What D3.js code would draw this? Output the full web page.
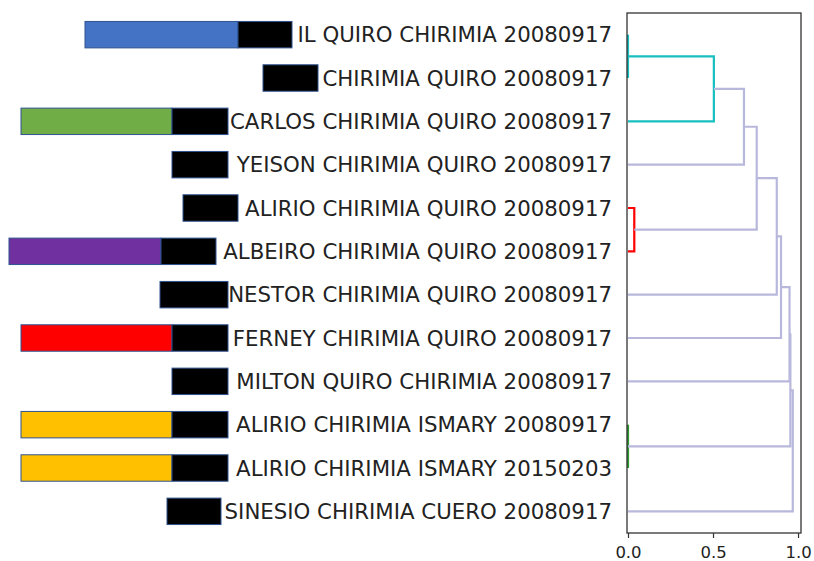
<!DOCTYPE html>
<html>
<head>
<meta charset="utf-8">
<style>
  body { margin: 0; background: #fff; }
  text { font-family: "DejaVu Sans", sans-serif; fill: #222; }
</style>
</head>
<body>
<svg id="chart" width="814" height="561"></svg>
<script src="https://d3js.org/d3.v7.min.js"></script>
<script>

// leaf labels, top to bottom
var leaves = [
  "IL QUIRO CHIRIMIA 20080917",
  "CHIRIMIA QUIRO 20080917",
  "CARLOS CHIRIMIA QUIRO 20080917",
  "YEISON CHIRIMIA QUIRO 20080917",
  "ALIRIO CHIRIMIA QUIRO 20080917",
  "ALBEIRO CHIRIMIA QUIRO 20080917",
  "NESTOR CHIRIMIA QUIRO 20080917",
  "FERNEY CHIRIMIA QUIRO 20080917",
  "MILTON QUIRO CHIRIMIA 20080917",
  "ALIRIO CHIRIMIA ISMARY 20080917",
  "ALIRIO CHIRIMIA ISMARY 20150203",
  "SINESIO CHIRIMIA CUERO 20080917"
];

// linkage rows: left child, right child, distance (new cluster ids start at 12)
var linkLeft  = [0, 12, 13, 4, 14, 16, 17, 18, 9, 19, 21];
var linkRight = [1, 2, 3, 5, 15, 6, 7, 8, 10, 20, 11];
var linkDist  = [0.0, 0.505, 0.682, 0.037, 0.757, 0.875, 0.90, 0.950, 0.0, 0.955, 0.969];
var linkColor = ["#17bfbf", "#17bfbf", "#b8b8dc", "#ff0000", "#b8b8dc", "#b8b8dc",
                 "#b8b8dc", "#b8b8dc", "#2f9a2f", "#b8b8dc", "#b8b8dc"];

var xTicks = [0.0, 0.5, 1.0];

// annotation boxes on the left (black box + coloured tag)
var boxStart = [238, 263, 172, 172, 183, 161, 160, 172, 172, 172, 172, 167];
var boxEnd   = [292, 318, 228, 228, 238, 216, 228, 228, 228, 228, 228, 221];
var tagStart = [85, null, 21, null, null, 9, null, 21, null, 21, 21, null];
var tagColor = ["#4472c4", null, "#70ad47", null, null, "#7030a0", null, "#ff0000", null, "#ffc000", "#ffc000", null];

var svg = d3.select("#chart");

var axLeft = 628, axRight = 801, axTop = 13, axBottom = 533;
var dmax = d3.max(linkDist) * 1.05;

var x = d3.scaleLinear().domain([0, dmax]).range([axLeft, axRight]);
var y = d3.scaleLinear().domain([0, leaves.length * 10]).range([axTop, axBottom]);
var bx = d3.scaleLinear().domain([0, 320]).range([0, 320]);

// positions of every node: y in leaf units, d = merge distance
var nodes = leaves.map(function(d, i) { return { y: 5 + 10 * i, d: 0 }; });
var segs = [];
linkLeft.forEach(function(a, i) {
  var b = linkRight[i], na = nodes[a], nb = nodes[b], h = linkDist[i];
  segs.push({ pts: [[na.d, na.y], [h, na.y], [h, nb.y], [nb.d, nb.y]], color: linkColor[i] });
  nodes.push({ y: (na.y + nb.y) / 2, d: h });
});

var line = d3.line().x(function(p) { return x(p[0]); }).y(function(p) { return y(p[1]); });

svg.append("g").selectAll("path")
  .data(segs)
  .enter().append("path")
    .attr("d", function(s) { return line(s.pts); })
    .attr("fill", "none")
    .attr("stroke", function(s) { return s.color; })
    .attr("stroke-width", 2.2);

// frame
svg.append("rect")
  .attr("x", axLeft - 1).attr("y", axTop)
  .attr("width", axRight - axLeft + 1).attr("height", axBottom - axTop)
  .attr("fill", "none").attr("stroke", "#333").attr("stroke-width", 1.3);

// x axis
var ax = svg.append("g").attr("transform", "translate(0," + axBottom + ")")
  .call(d3.axisBottom(x).tickValues(xTicks).tickFormat(d3.format(".1f")).tickSize(5).tickPadding(8));
ax.select(".domain").remove();
ax.selectAll("line").attr("stroke", "#333").attr("stroke-width", 1.2);
ax.selectAll("text").style("font-family", "DejaVu Sans").style("font-size", "16.5px").attr("fill", "#222");

// leaf labels
svg.append("g").selectAll("text")
  .data(leaves)
  .enter().append("text")
    .attr("x", axLeft - 16)
    .attr("y", function(d, i) { return y(5 + 10 * i); })
    .attr("dy", "0.36em")
    .attr("text-anchor", "end")
    .style("font-size", "21.3px")
    .text(function(d) { return d; });

// annotation boxes
var bh = y(6.1) - y(0);
var rows = svg.append("g").selectAll("g")
  .data(leaves)
  .enter().append("g")
    .attr("transform", function(d, i) { return "translate(0," + (y(5 + 10 * i) - bh / 2) + ")"; });

rows.append("rect")
    .attr("x", function(d, i) { return tagStart[i] === null ? 0 : bx(tagStart[i]); })
    .attr("width", function(d, i) { return tagStart[i] === null ? 0 : bx(boxStart[i]) - bx(tagStart[i]); })
    .attr("height", bh)
    .attr("fill", function(d, i) { return tagColor[i] || "none"; })
    .attr("stroke", function(d, i) { return tagStart[i] === null ? "none" : "#2f528f"; })
    .attr("stroke-width", 1);

rows.append("rect")
    .attr("x", function(d, i) { return bx(boxStart[i]); })
    .attr("width", function(d, i) { return bx(boxEnd[i]) - bx(boxStart[i]); })
    .attr("height", bh)
    .attr("fill", "#000")
    .attr("stroke", "#2f528f").attr("stroke-width", 1);

</script>
</body>
</html>
